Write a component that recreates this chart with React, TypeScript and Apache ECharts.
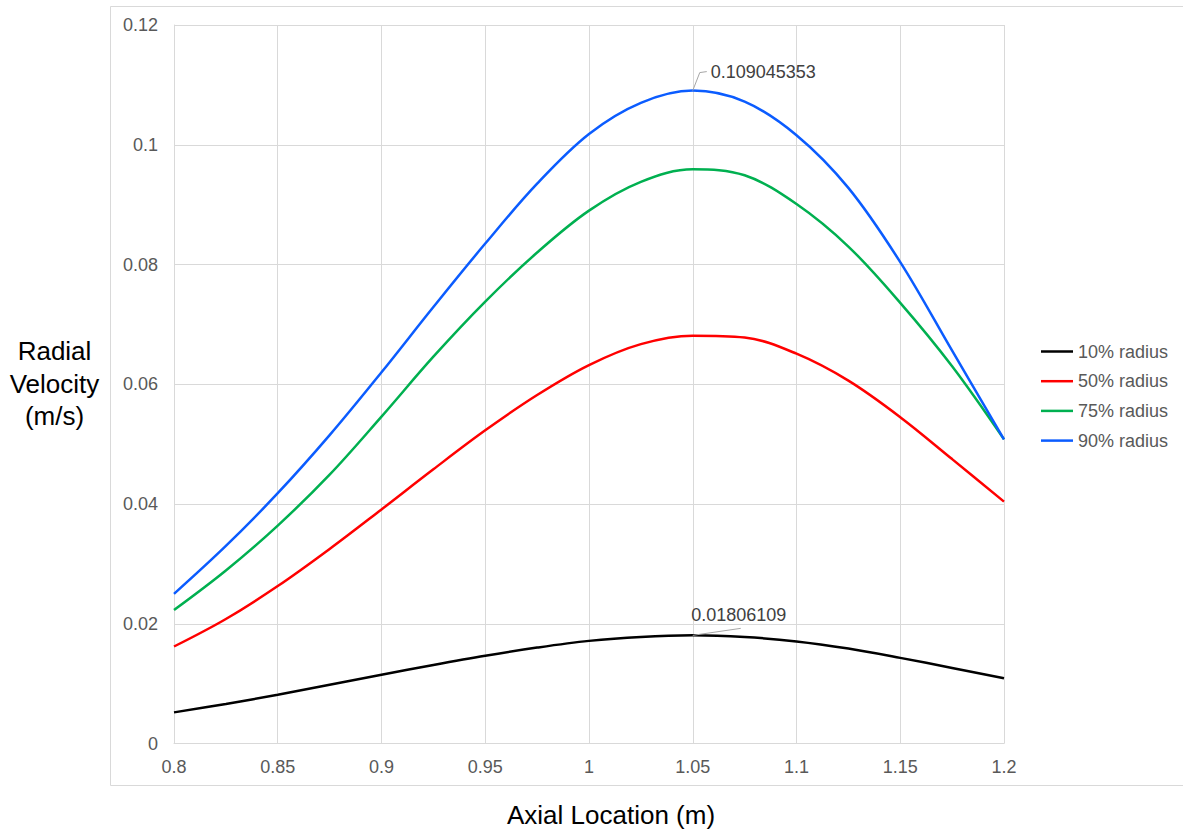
import React, { useEffect, useRef } from "react";
import * as echarts from "echarts";

const axialLocations = [0.8, 0.825, 0.85, 0.875, 0.9, 0.925, 0.95, 0.975, 1.0, 1.025, 1.05, 1.075, 1.1, 1.125, 1.15, 1.175, 1.2];
const radius10 = [0.0052, 0.0066, 0.00815, 0.0098, 0.01148, 0.01312, 0.01466, 0.01602, 0.01714, 0.0178, 0.01806109, 0.01778, 0.01705, 0.01585, 0.0143, 0.01262, 0.0109];
const radius50 = [0.0162, 0.0208, 0.0263, 0.0325, 0.0391, 0.0458, 0.0523, 0.0582, 0.0632, 0.0667, 0.0681, 0.0678, 0.0651, 0.0606, 0.0545, 0.0475, 0.0404];
const radius75 = [0.0223, 0.0289, 0.0364, 0.0449, 0.0546, 0.0646, 0.0738, 0.082, 0.089, 0.0938, 0.0959, 0.0949, 0.0901, 0.083, 0.0736, 0.063, 0.0508];
const radius90 = [0.025, 0.033, 0.0418, 0.0515, 0.062, 0.0729, 0.0835, 0.0935, 0.1018, 0.107, 0.109045353, 0.1072, 0.1016, 0.0928, 0.0804, 0.0656, 0.0508];
const seriesNames = ["10% radius", "50% radius", "75% radius", "90% radius"];
const seriesColors = ["#000000", "#ff0000", "#00b050", "#0b5cff"];
const peakLabels = ["0.01806109", "0.109045353"];
const PEAK_INDEX = 10;

const FONT = "'Liberation Sans', Arial, sans-serif";

export default function App() {
  const ref = useRef<HTMLDivElement>(null);
  useEffect(() => {
    document.body.style.margin = "0";
    if (!ref.current) return;
    const chart = echarts.init(ref.current, undefined, { renderer: "svg" });
    const allData = [radius10, radius50, radius75, radius90];
    chart.setOption({
      animation: false,
      backgroundColor: "#ffffff",
      textStyle: { fontFamily: FONT },
      grid: { left: 174, top: 25, right: 179, bottom: 87.5, containLabel: false },
      xAxis: {
        type: "value",
        min: 0.8,
        max: 1.2,
        interval: 0.05,
        axisLine: { show: true, lineStyle: { color: "#d9d9d9", width: 1 } },
        axisTick: { show: false },
        splitLine: { show: true, lineStyle: { color: "#d9d9d9", width: 1 } },
        axisLabel: { color: "#595959", fontSize: 18, margin: 14, fontFamily: FONT },
      },
      yAxis: {
        type: "value",
        min: 0,
        max: 0.12,
        interval: 0.02,
        axisLine: { show: true, lineStyle: { color: "#d9d9d9", width: 1 } },
        axisTick: { show: false },
        splitLine: { show: true, lineStyle: { color: "#d9d9d9", width: 1 } },
        axisLabel: { color: "#595959", fontSize: 18, margin: 16, fontFamily: FONT },
      },
      legend: {
        orient: "vertical",
        left: 1041,
        top: 342.5,
        padding: 0,
        icon: "rect",
        itemWidth: 32,
        itemHeight: 2.5,
        itemGap: 11.7,
        textStyle: { color: "#595959", fontSize: 18, lineHeight: 18, fontFamily: FONT },
        data: seriesNames,
      },
      series: seriesNames.map((name, i) => ({
        name,
        type: "line",
        smooth: 0.35,
        symbol: "none",
        showSymbol: false,
        color: seriesColors[i],
        lineStyle: { color: seriesColors[i], width: 2.5 },
        data: axialLocations.map((x, j) => [x, allData[i][j]]),
        z: 2 + i,
      })),
    });

    const pBlack = chart.convertToPixel({ gridIndex: 0 }, [axialLocations[PEAK_INDEX], radius10[PEAK_INDEX]]) as number[];
    const pBlue = chart.convertToPixel({ gridIndex: 0 }, [axialLocations[PEAK_INDEX], radius90[PEAK_INDEX]]) as number[];

    chart.setOption({
      graphic: [
        {
          type: "rect",
          silent: true,
          shape: { x: 110.5, y: 6.5, width: 1100, height: 779 },
          style: { fill: "none", stroke: "#d9d9d9", lineWidth: 1 },
          z: -1,
        },
        {
          type: "text",
          x: 54.5,
          y: 383.5,
          style: {
            text: "Radial\nVelocity\n(m/s)",
            font: `26px ${FONT}`,
            fill: "#000000",
            textAlign: "center",
            textVerticalAlign: "middle",
            lineHeight: 32.5,
          },
        },
        {
          type: "text",
          x: 611,
          y: 815,
          style: {
            text: "Axial Location (m)",
            font: `26px ${FONT}`,
            fill: "#000000",
            textAlign: "center",
            textVerticalAlign: "middle",
          },
        },
        {
          type: "polyline",
          shape: { points: [[pBlue[0], pBlue[1]], [pBlue[0] + 7, pBlue[1] - 18], [pBlue[0] + 14, pBlue[1] - 19]] },
          style: { stroke: "#a6a6a6", lineWidth: 1, fill: "none" },
          z: 10,
        },
        {
          type: "text",
          x: pBlue[0] + 18,
          y: pBlue[1] - 19,
          style: {
            text: peakLabels[1],
            font: `18px ${FONT}`,
            fill: "#404040",
            textAlign: "left",
            textVerticalAlign: "middle",
          },
          z: 10,
        },
        {
          type: "line",
          shape: { x1: pBlack[0], y1: pBlack[1], x2: pBlack[0] + 48, y2: pBlack[1] - 7 },
          style: { stroke: "#a6a6a6", lineWidth: 1 },
          z: 10,
        },
        {
          type: "text",
          x: pBlack[0] - 1.5,
          y: pBlack[1] - 20.5,
          style: {
            text: peakLabels[0],
            font: `18px ${FONT}`,
            fill: "#404040",
            textAlign: "left",
            textVerticalAlign: "middle",
          },
          z: 10,
        },
      ],
    });

    return () => chart.dispose();
  }, []);
  return <div ref={ref} style={{ width: 1183, height: 831 }} />;
}
